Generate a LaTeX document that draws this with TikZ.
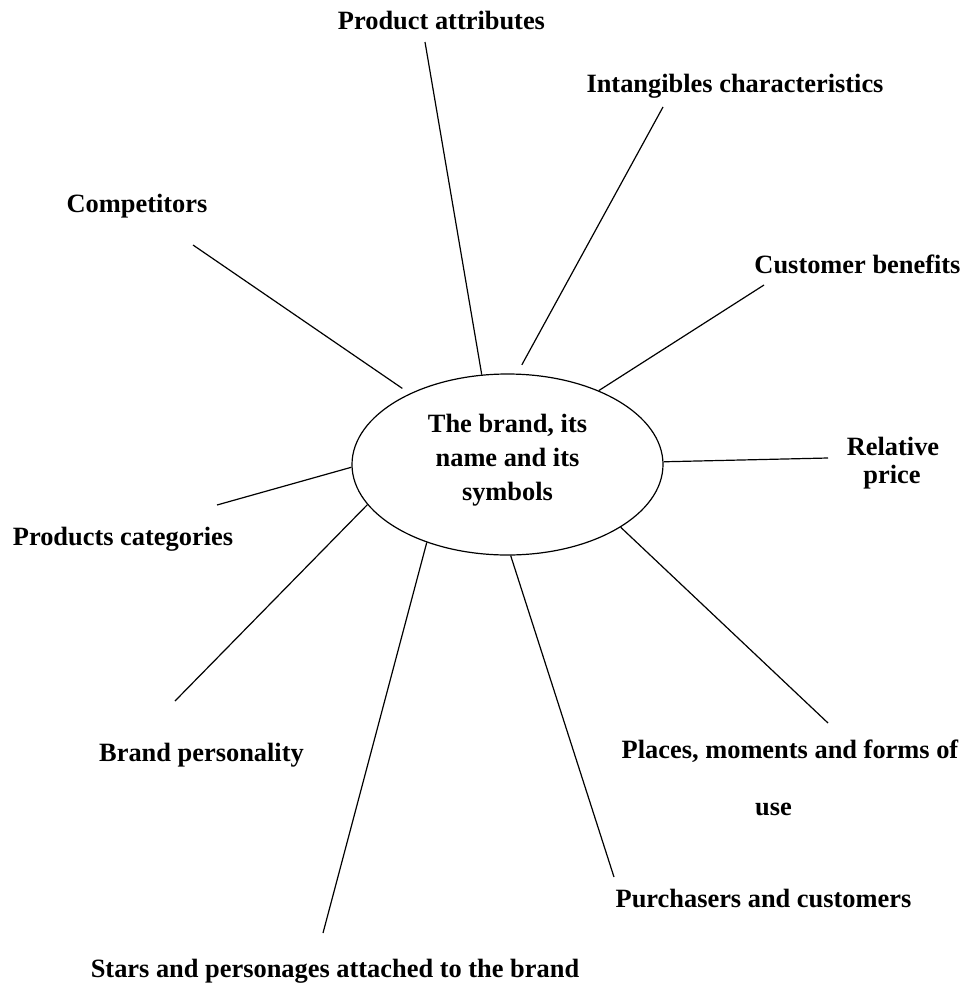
\documentclass[tikz,border=0pt]{standalone}
\usepackage{fontspec}
\setmainfont{Liberation Serif}
\usetikzlibrary{shapes.geometric}
\begin{document}
\begin{tikzpicture}[x=1pt,y=-1pt,
  lbl/.style={font=\fontsize{26.4}{34}\selectfont\bfseries, inner sep=0pt, anchor=base},
  spoke/.style={line width=1.2pt, draw=black},
  hub/.style={ellipse, draw=black, line width=1.2pt, minimum width=311pt,
              minimum height=181pt, inner sep=0pt}]
\useasboundingbox (0,0) rectangle (967,983);

% central ellipse and its caption
\node[hub] (brand) at (507.5,464.5) {};
\node[font=\fontsize{26.4}{34}\selectfont\bfseries, align=center, inner sep=0pt]
  (brandtext) at (507.5,460) {The brand, its\\name and its\\symbols};

% outer ends of the spokes
\coordinate (pA) at (425,42);
\coordinate (pB) at (663,107);
\coordinate (pC) at (764,285);
\coordinate (pD) at (828,458);
\coordinate (pE) at (828,723);
\coordinate (pF) at (614,877);
\coordinate (pG) at (323,933);
\coordinate (pH) at (175,701);
\coordinate (pI) at (217,505);
\coordinate (pJ) at (193,245);

% spokes
\draw[spoke] (brand.106) -- (pA);
\draw[spoke, shorten <=10pt] (brand.84) -- (pB);
\draw[spoke] (brand.39) -- (pC);
\draw[spoke] (brand.1) -- (pD);
\draw[spoke] (brand.331) -- (pE);
\draw[spoke] (brand.272) -- (pF);
\draw[spoke] (brand.224) -- (pG);
\draw[spoke] (brand.196) -- (pH);
\draw[spoke] (brand.181) -- (pI);
\draw[spoke, shorten <=9pt] (brand.144) -- (pJ);

% labels
\node[lbl] (tA) at (441.5,29) {Product attributes};
\node[lbl] (tB) at (735,92) {Intangibles characteristics};
\node[lbl] (tC) at (857.5,273) {Customer benefits};
\node[lbl] (tD1) at (893,455.5) {Relative};
\node[lbl] (tD2) at (892,483) {price};
\node[lbl] (tE1) at (790,758) {Places, moments and forms of};
\node[lbl] (tE2) at (773.5,815) {use};
\node[lbl] (tF) at (763.5,907) {Purchasers and customers};
\node[lbl] (tG) at (335,977) {Stars and personages attached to the brand};
\node[lbl] (tH) at (201.5,761) {Brand personality};
\node[lbl] (tI) at (123,545.5) {Products categories};
\node[lbl] (tJ) at (137,212) {Competitors};
\end{tikzpicture}
\end{document}
